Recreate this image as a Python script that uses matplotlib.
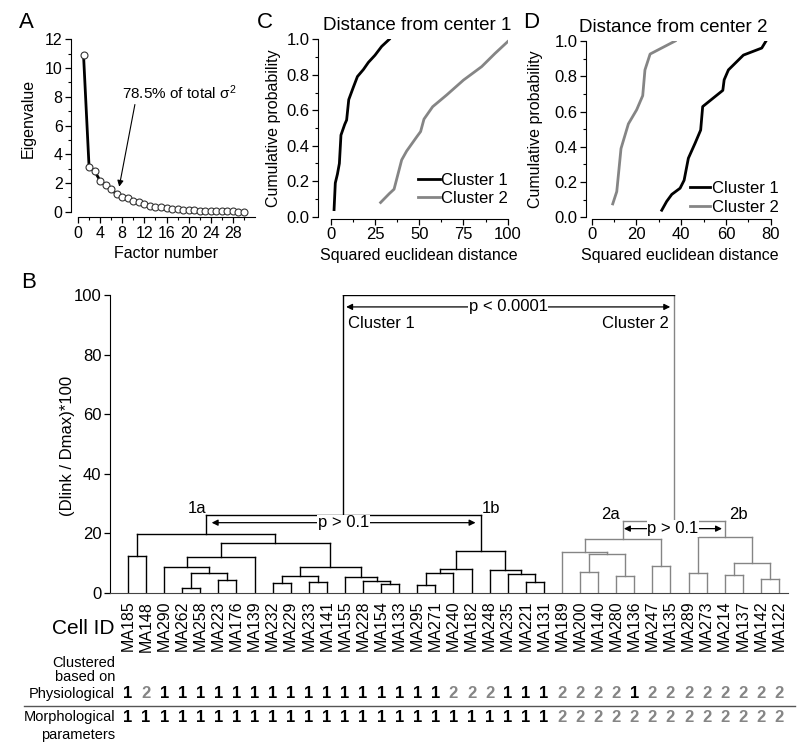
import numpy as np
import matplotlib
matplotlib.use('Agg')
import matplotlib.pyplot as plt
from matplotlib import transforms
from matplotlib.lines import Line2D

plt.rcParams['font.family'] = ['Liberation Sans', 'DejaVu Sans']
plt.rcParams['mathtext.fontset'] = 'custom'
plt.rcParams['mathtext.rm'] = 'Liberation Sans'
plt.rcParams['mathtext.it'] = 'Liberation Sans:italic'

GRAY = '#858585'

# ---- panel A: scree plot
factor = list(range(1, 31))
eigen = [10.9, 3.12, 2.82, 2.16, 1.86, 1.56, 1.21, 1.05, 0.95, 0.74,
         0.70, 0.57, 0.42, 0.36, 0.31, 0.27, 0.22, 0.18, 0.15, 0.13,
         0.10, 0.08, 0.06, 0.05, 0.04, 0.03, 0.02, 0.02, 0.01, 0.01]

# ---- panel C: distance from center 1
c1_d1 = [1.9, 2.6, 3.8, 4.9, 5.8, 7.9, 9.0, 10.2, 12.8, 15.1, 18.5, 21.3, 25.0, 28.8, 33.1]
c1_p1 = [0.04, 0.19, 0.24, 0.30, 0.46, 0.52, 0.545, 0.66, 0.73, 0.79, 0.83, 0.87, 0.91, 0.96, 1.0]
c1_d2 = [28.2, 33.1, 35.8, 40.1, 42.9, 48.6, 50.8, 52.7, 57.6, 65.5, 75.0, 85.3, 92.8, 100.0]
c1_p2 = [0.08, 0.13, 0.155, 0.32, 0.37, 0.45, 0.48, 0.55, 0.62, 0.686, 0.77, 0.846, 0.92, 0.987]

# ---- panel D: distance from center 2
c2_d1 = [31.3, 33.5, 35.8, 39.5, 41.3, 43.2, 46.2, 48.7, 49.6, 53.7, 58.6, 59.2, 61.1, 67.8, 76.0, 77.9]
c2_p1 = [0.04, 0.09, 0.13, 0.165, 0.21, 0.335, 0.42, 0.495, 0.628, 0.67, 0.72, 0.78, 0.836, 0.92, 0.96, 1.0]
c2_d2 = [9.4, 11.2, 13.1, 16.4, 20.1, 22.8, 23.8, 26.1, 37.3]
c2_p2 = [0.076, 0.146, 0.39, 0.53, 0.61, 0.69, 0.836, 0.926, 1.0]

# ---- panel B: dendrogram
leaves = ['MA185', 'MA148', 'MA290', 'MA262', 'MA258', 'MA223', 'MA176', 'MA139',
          'MA232', 'MA229', 'MA233', 'MA141', 'MA155', 'MA228', 'MA154', 'MA133',
          'MA295', 'MA271', 'MA240', 'MA182', 'MA248', 'MA235', 'MA221', 'MA131',
          'MA189', 'MA200', 'MA140', 'MA280', 'MA136', 'MA247', 'MA135',
          'MA289', 'MA273', 'MA214', 'MA137', 'MA142', 'MA122']
cluster2_leaves = leaves[24:]
merges = [
    ('a1', 'MA185', 'MA148', 12.5),
    ('a2', 'MA262', 'MA258', 1.8),
    ('a3', 'MA223', 'MA176', 4.5),
    ('a4', 'a2', 'a3', 6.8),
    ('a5', 'MA290', 'a4', 8.8),
    ('a6', 'a5', 'MA139', 12.0),
    ('a7', 'MA232', 'MA229', 3.2),
    ('a8', 'MA233', 'MA141', 3.6),
    ('a9', 'a7', 'a8', 5.6),
    ('a10', 'MA154', 'MA133', 2.9),
    ('a11', 'MA228', 'a10', 4.0),
    ('a12', 'MA155', 'a11', 5.3),
    ('a13', 'a9', 'a12', 8.6),
    ('a14', 'a6', 'a13', 16.7),
    ('1a', 'a1', 'a14', 19.7),
    ('b1', 'MA295', 'MA271', 2.7),
    ('b2', 'b1', 'MA240', 6.8),
    ('b3', 'b2', 'MA182', 7.9),
    ('b4', 'MA221', 'MA131', 3.6),
    ('b5', 'MA235', 'b4', 6.3),
    ('b6', 'MA248', 'b5', 7.6),
    ('1b', 'b3', 'b6', 14.2),
    ('C1', '1a', '1b', 26.2),
    ('c1', 'MA200', 'MA140', 7.2),
    ('c2', 'MA280', 'MA136', 5.6),
    ('c3', 'c1', 'c2', 13.2),
    ('c4', 'MA189', 'c3', 13.7),
    ('c5', 'MA247', 'MA135', 9.0),
    ('2a', 'c4', 'c5', 18.0),
    ('d1', 'MA289', 'MA273', 6.8),
    ('d2', 'MA214', 'MA137', 6.2),
    ('d3', 'MA142', 'MA122', 4.7),
    ('d4', 'd2', 'd3', 10.0),
    ('2b', 'd1', 'd4', 18.9),
    ('C2', '2a', '2b', 24.2),
    ('root', 'C1', 'C2', 100.0),
]
physio = [1, 2, 1, 1, 1, 1, 1, 1, 1, 1, 1, 1, 1, 1, 1, 1, 1, 1,
          2, 2, 2, 1, 1, 1, 2, 2, 2, 2, 1, 2, 2, 2, 2, 2, 2, 2, 2]
morpho = [1] * 24 + [2] * 13

W, H = 799, 750
fig = plt.figure(figsize=(W / 100, H / 100), dpi=100)


def px_axes(left, top, right, bottom):
    return fig.add_axes([left / W, 1 - bottom / H, (right - left) / W, (bottom - top) / H])


def fy(py):
    return 1 - py / H


def style_axes(ax, lout, bout, size):
    ax.spines['top'].set_visible(False)
    ax.spines['right'].set_visible(False)
    ax.spines['left'].set_position(('outward', lout))
    ax.spines['bottom'].set_position(('outward', bout))
    ax.tick_params(which='major', direction='out', length=4, width=0.9, labelsize=size, pad=2)
    ax.tick_params(which='minor', direction='out', length=2.2, width=0.8)


# ---------------- A
axA = px_axes(78, 39.3, 255, 211.7)
axA.plot(factor, eigen, color='k', lw=2, marker='o', ms=5, mfc='white', mec='#333333',
         mew=0.8, clip_on=False)
axA.set_xlim(0, 32)
axA.set_ylim(0, 12)
axA.set_xticks(range(0, 29, 4))
axA.set_xticks(range(2, 32, 4), minor=True)
axA.set_yticks(range(0, 13, 2))
axA.set_yticks(range(1, 12, 2), minor=True)
style_axes(axA, 5, 4, 11.5)
axA.set_ylabel('Eigenvalue', fontsize=11.5)
axA.set_xlabel('Factor number', fontsize=11.5)
axA.yaxis.set_label_coords(-0.24, 0.54)
axA.xaxis.set_label_coords(0.5, -0.20)
axA.annotate('78.5% of total σ$^{2}$', xy=(7.45, 1.74), xytext=(7.9, 8.3),
             fontsize=11, va='center', ha='left',
             arrowprops=dict(arrowstyle='-|>', color='k', lw=0.8, mutation_scale=9,
                             shrinkA=0, shrinkB=0, relpos=(0.12, 0.0)))

leg_kw = dict(loc='lower left', frameon=False, fontsize=12, handletextpad=0.1,
              labelspacing=0.2, borderaxespad=0.0, borderpad=0.0)

# ---------------- C
axC = px_axes(330.7, 39.3, 507.7, 216.7)
axC.plot(c1_d1, c1_p1, color='k', lw=2, label='Cluster 1')
axC.plot(c1_d2, c1_p2, color=GRAY, lw=2, label='Cluster 2')
axC.set_xlim(0, 100)
axC.set_ylim(0, 1)
axC.set_xticks([0, 25, 50, 75, 100])
axC.set_xticks([12.5, 37.5, 62.5, 87.5], minor=True)
axC.set_yticks(np.arange(0, 1.01, 0.2))
axC.set_yticks(np.arange(0.1, 1.0, 0.2), minor=True)
axC.yaxis.set_major_formatter('{x:.1f}')
style_axes(axC, 9, 1.5, 12)
axC.set_ylabel('Cumulative probability', fontsize=11.5)
axC.set_xlabel('Squared euclidean distance', fontsize=11.5)
axC.yaxis.set_label_coords(-0.28, 0.5)
axC.xaxis.set_label_coords(0.5, -0.175)
axC.set_title('Distance from center 1', fontsize=13.5, x=0.49, pad=6.5)
axC.legend(handlelength=1.3, bbox_to_anchor=(0.493, 0.06), **leg_kw)

# ---------------- D
axD = px_axes(591.7, 41, 770.7, 217.3)
axD.plot(c2_d1, c2_p1, color='k', lw=2, label='Cluster 1')
axD.plot(c2_d2, c2_p2, color=GRAY, lw=2, label='Cluster 2')
axD.set_xlim(0, 80)
axD.set_ylim(0, 1)
axD.set_xticks(range(0, 81, 20))
axD.set_xticks(range(10, 80, 20), minor=True)
axD.set_yticks(np.arange(0, 1.01, 0.2))
axD.set_yticks(np.arange(0.1, 1.0, 0.2), minor=True)
axD.yaxis.set_major_formatter('{x:.1f}')
style_axes(axD, 4.4, 1, 12)
axD.set_ylabel('Cumulative probability', fontsize=11.5)
axD.set_xlabel('Squared euclidean distance', fontsize=11.5)
axD.yaxis.set_label_coords(-0.27, 0.5)
axD.xaxis.set_label_coords(0.493, -0.175)
axD.set_title('Distance from center 2', fontsize=13.5, x=0.455, pad=6.5)
axD.legend(handlelength=1.2, bbox_to_anchor=(0.549, 0.015), **leg_kw)

# ---------------- B
axB = px_axes(109.9, 295, 788, 593)
pos = {name: i + 1 for i, name in enumerate(leaves)}
hgt = {name: 0.0 for name in leaves}
col = {name: (GRAY if name in cluster2_leaves else 'k') for name in leaves}
for name, l, r, h in merges:
    xl, xr = pos[l], pos[r]
    same = col[l] == col[r]
    top_col = col[l] if same else 'k'
    axB.plot([xl, xl], [hgt[l], h], color=col[l], lw=1)
    axB.plot([xr, xr], [hgt[r], h], color=col[r], lw=1)
    axB.plot([xl, xr], [h, h], color=top_col, lw=1)
    pos[name] = (xl + xr) / 2
    hgt[name] = h
    col[name] = top_col


def double_arrow(x0, x1, y, text):
    xm = (x0 + x1) / 2
    for xe in (x0, x1):
        axB.annotate('', xy=(xe, y), xytext=(xm, y),
                     arrowprops=dict(arrowstyle='-|>', color='k', lw=0.9,
                                     mutation_scale=9, shrinkA=0, shrinkB=0))
    axB.text(xm, y, text, ha='center', va='center', fontsize=12, zorder=5,
             bbox=dict(fc='white', ec='none', pad=0.5))


double_arrow(pos['C1'] + 0.15, pos['C2'] - 0.2, 96, 'p < 0.0001')
double_arrow(pos['1a'] + 0.3, pos['1b'] - 0.28, 23.6, 'p > 0.1')
double_arrow(pos['2a'] + 0.05, pos['2b'] - 0.15, 21.6, 'p > 0.1')
axB.text(pos['C1'] + 0.27, 90.5, 'Cluster 1', ha='left', va='center', fontsize=12)
axB.text(pos['C2'] - 0.27, 90.5, 'Cluster 2', ha='right', va='center', fontsize=12)
axB.text(pos['1a'] - 0.53, 28.5, '1a', ha='center', va='center', fontsize=12)
axB.text(pos['1b'] + 0.6, 28.5, '1b', ha='center', va='center', fontsize=12)
axB.text(pos['2a'] - 0.7, 26.2, '2a', ha='center', va='center', fontsize=12)
axB.text(pos['2b'] + 0.74, 26.2, '2b', ha='center', va='center', fontsize=12)

axB.set_xlim(0, 37.5)
axB.set_ylim(0, 100)
axB.spines['top'].set_visible(False)
axB.spines['right'].set_visible(False)
axB.spines['bottom'].set_color('#444444')
axB.set_yticks(range(0, 101, 20))
axB.set_xticks(range(1, len(leaves) + 1), labels=leaves, rotation=90)
axB.tick_params(axis='y', direction='out', length=4, width=0.9, labelsize=12, pad=2)
axB.tick_params(axis='x', length=0, labelsize=11.5, pad=5.5)
axB.set_ylabel('(Dlink / Dmax)*100', fontsize=12)
axB.yaxis.set_label_coords(-0.052, 0.495)

# table below the dendrogram
tr = transforms.blended_transform_factory(axB.transData, fig.transFigure)
for i, (p, m) in enumerate(zip(physio, morpho)):
    fig.text(i + 1, fy(694), str(p), transform=tr, ha='center', va='center',
             fontsize=12, fontweight='bold', color='k' if p == 1 else GRAY)
    fig.text(i + 1, fy(717), str(m), transform=tr, ha='center', va='center',
             fontsize=12, fontweight='bold', color='k' if m == 1 else GRAY)

fig.text(115 / W, fy(629), 'Cell ID', ha='right', va='center', fontsize=15)
fig.text(115 / W, fy(670), 'Clustered\nbased on', ha='right', va='center', fontsize=10.5,
         linespacing=0.95)
fig.text(115 / W, fy(694), 'Physiological', ha='right', va='center', fontsize=10.5)
fig.text(115 / W, fy(717), 'Morphological', ha='right', va='center', fontsize=10.5)
fig.text(115 / W, fy(735), 'parameters', ha='right', va='center', fontsize=10.5)
fig.add_artist(Line2D([24 / W, 795 / W], [fy(705.7), fy(705.7)], color='#555555', lw=1))

# panel letters
for letter, x, y in [('A', 19, 22), ('C', 257, 22), ('D', 523, 22), ('B', 21, 282)]:
    fig.text(x / W, fy(y), letter, ha='left', va='center', fontsize=16)

fig.savefig('out.png', dpi=100)
